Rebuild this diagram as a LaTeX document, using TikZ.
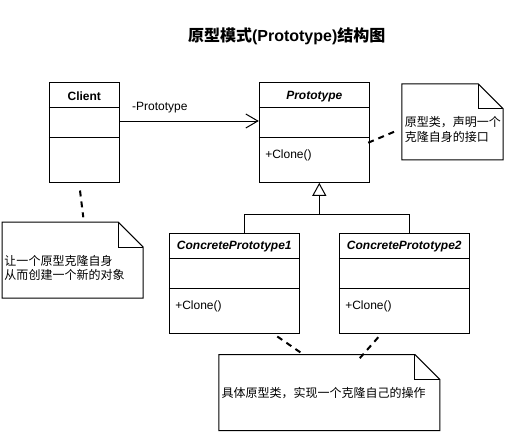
\documentclass[tikz,border=0pt]{standalone}
\usepackage{fontspec}
\setmainfont{Liberation Sans}
\newfontfamily\cjk{Noto Sans CJK SC}
\usetikzlibrary{calc,arrows.meta}

\begin{document}
\begin{tikzpicture}[x=1pt,y=-1pt,line width=1pt,
    classbox/.style={draw,inner sep=0pt,minimum height=100pt,minimum width=#1},
    notebox/.style={inner sep=0pt,minimum width=#1,minimum height=75pt},
    txt/.style={inner sep=0pt,font=\fontsize{12}{14.5}\selectfont},
    notelink/.style={line width=2pt,dash pattern=on 6pt off 5pt}]
  \useasboundingbox (0,0) rectangle (505,433);
  %\draw[very thin,lightgray,step=10] (0,0) grid (505,433);
  \node[inner sep=0pt,font=\fontsize{16}{19}\selectfont\bfseries] (title) at (286.7,36.7)
    {{\cjk 原型模式}(Prototype){\cjk 结构图}};
  % classes
  \node[classbox=70pt] (client) at (84.3,132.3) {};
  \node[classbox=110pt] (proto) at (314.3,132.3) {};
  \node[classbox=130pt] (cp1) at (234.3,283.3) {};
  \node[classbox=130pt] (cp2) at (404.3,283.3) {};
  \node[txt,font=\fontsize{12}{14}\selectfont\bfseries] (clientname)
    at ($(client.north)+(0,14.4)$) {Client};
  \node[txt,font=\fontsize{12}{14}\selectfont\bfseries\itshape] (protoname)
    at ($(proto.north)+(0,14.4)$) {Prototype};
  \node[txt,font=\fontsize{12}{14}\selectfont\bfseries\itshape] (cp1name)
    at ($(cp1.north)+(0,13.6)$) {ConcretePrototype1};
  \node[txt,font=\fontsize{12}{14}\selectfont\bfseries\itshape] (cp2name)
    at ($(cp2.north)+(0,13.6)$) {ConcretePrototype2};
  \foreach \c in {client,proto,cp1,cp2} {
    \draw ($(\c.north west)+(0,26)$) -- ($(\c.north east)+(0,26)$);
    \draw ($(\c.north west)+(0,56)$) -- ($(\c.north east)+(0,56)$);
  }
  \node[txt,anchor=west] (protoop) at ($(proto.north west)+(6,73.5)$) {+Clone()};
  \node[txt,anchor=west] (cp1op) at ($(cp1.north west)+(6,73.5)$) {+Clone()};
  \node[txt,anchor=west] (cp2op) at ($(cp2.north west)+(6,73.5)$) {+Clone()};
  % association
  \draw[-{Straight Barb[length=12pt,width=14pt]}] ($(client.east)+(0,-11.3)$)
    -- ($(proto.west)+(0,-11.3)$);
  \node[txt,anchor=west] (assoclabel) at (131.7,107.3) {-Prototype};
  % generalisation
  \coordinate (joint) at (319.3,214.3);
  \draw ($(cp1.north)+(10,0)$) |- (joint) -| ($(cp2.north)+(5,0)$);
  \draw[-{Triangle[open,length=13pt,width=14pt]}] (joint) -- ($(proto.south)+(5,0)$);
  % notes
  \node[notebox=100.4pt] (protonote) at (452.5,121.8) {};
  \node[notebox=140pt] (clientnote) at (72.7,260) {};
  \node[notebox=220pt] (cpnote) at (329.3,392.5) {};
  \foreach \n in {protonote,clientnote,cpnote} {
    \draw (\n.north west) -- ($(\n.north east)+(-25,0)$) -- ($(\n.north east)+(0,25)$)
      -- (\n.south east) -- (\n.south west) -- cycle;
    \draw ($(\n.north east)+(-25,0)$) |- ($(\n.north east)+(0,25)$);
  }
  \node[txt,anchor=west,align=left,font=\fontsize{12}{15}\cjk] (protonotetext)
    at (404.3,129.2) {原型类，声明一个\\克隆自身的接口};
  \node[txt,anchor=west,align=left,font=\fontsize{12}{14.5}\cjk] (clientnotetext)
    at (4,268) {让一个原型克隆自身\\从而创建一个新的对象};
  \node[txt,anchor=west,font=\fontsize{12}{14.5}\cjk] (cpnotetext)
    at (221,392.7) {具体原型类，实现一个克隆自己的操作};
  % note links
  \coordinate (protolinkend) at (396,131);
  \coordinate (clientlinkend) at (83.3,217.3);
  \coordinate (cp1linkend) at (301.7,353.3);
  \coordinate (cp2linkend) at (359.3,358.7);
  \draw[notelink] ($(proto.east)+(-1.6,10.4)$) -- (protolinkend);
  \draw[notelink] ($(client.south)+(-4.3,7.7)$) -- (clientlinkend);
  \draw[notelink] ($(cp1.south)+(43,2.7)$) -- (cp1linkend);
  \draw[notelink] ($(cp2.south)+(-26,3.4)$) -- (cp2linkend);
\end{tikzpicture}
\end{document}
